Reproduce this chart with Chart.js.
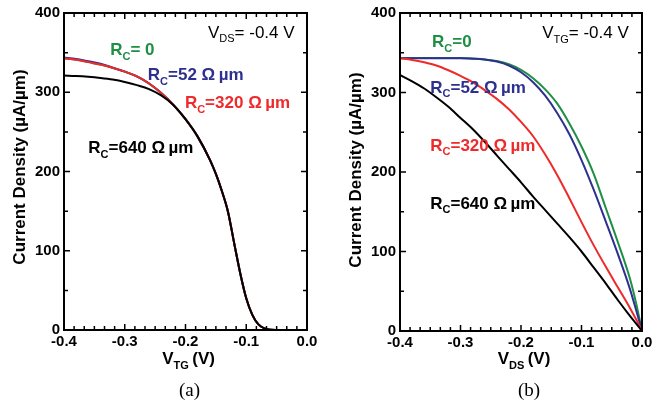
<!DOCTYPE html>
<html lang="en">
<head>
<meta charset="UTF-8">
<title>Current density, contact resistance</title>
<script src="https://cdn.jsdelivr.net/npm/chart.js@4.4.0/dist/chart.umd.min.js"></script>
<style>
  body { margin: 0; width: 654px; height: 411px; overflow: hidden; background: #fff; position: relative; }
  canvas { position: absolute; top: 0; }
  #left { left: 0; }
  #right { left: 327px; }
  .cap { position: absolute; top: 379px; font: 19px "Liberation Serif", "Times New Roman", serif; color: #000; }
</style>
</head>
<body>
<canvas id="left" width="327" height="411"></canvas>
<canvas id="right" width="340" height="411"></canvas>
<div class="cap" style="left:179px">(a)</div>
<div class="cap" style="left:518px">(b)</div>
<script>
// (a) J vs V_TG at V_DS = -0.4 V
const vtg = [-0.40, -0.38, -0.36, -0.34, -0.32, -0.30, -0.28, -0.26, -0.24, -0.22, -0.20, -0.18, -0.16, -0.15, -0.14, -0.13, -0.12, -0.11, -0.10, -0.09, -0.08, -0.07, -0.06, -0.04, -0.02, 0];
const a_rc0   = [343, 341, 338, 335, 331, 326, 320, 311, 299, 284, 266, 244, 215, 197, 175, 149, 110, 72, 40, 19, 7, 2, 0.3, 0, 0, 0];
const a_rc52  = [344, 342, 339, 336, 331, 326, 320, 311, 299, 284, 266, 244, 215, 197, 175, 149, 110, 72, 40, 19, 7, 2, 0.3, 0, 0, 0];
const a_rc320 = [343, 341, 338, 335, 331, 326, 320, 311, 299, 284, 266, 244, 215, 197, 175, 149, 110, 72, 40, 19, 7, 2, 0.3, 0, 0, 0];
const a_rc640 = [321, 320.5, 319.5, 318, 316, 313, 309, 304, 296, 284, 266, 244, 215, 197, 175, 149, 110, 72, 40, 19, 7, 2, 0.3, 0, 0, 0];

// (b) J vs V_DS at V_TG = -0.4 V
const vds = [-0.40, -0.38, -0.36, -0.34, -0.32, -0.30, -0.28, -0.26, -0.24, -0.22, -0.20, -0.18, -0.16, -0.14, -0.12, -0.10, -0.08, -0.06, -0.04, -0.02, -0.01, 0];
const b_rc0   = [343.5, 343.5, 343.5, 343.5, 343.5, 343.3, 342.7, 341.5, 339.5, 335.5, 328.5, 318, 304, 286, 261, 232, 198, 155, 112, 66, 36, 0];
const b_rc52  = [343, 343, 343, 343, 343, 343, 342.5, 341.5, 339, 334, 325.5, 313, 296, 274, 247.5, 215, 178, 138, 97, 53, 27, 0];
const b_rc320 = [343, 341, 338, 334, 328, 321, 313, 303, 292, 279, 263, 245, 222, 196, 167, 137, 108, 81, 55, 29, 15, 0];
const b_rc640 = [322, 314, 305, 294, 282, 268, 254, 238, 221, 204, 187, 169, 152, 135, 118, 100, 80, 60, 39, 19, 9.5, 0];

const GREEN = '#1f8f45', NAVY = '#2e3090', RED = '#ee2a2a', BLACK = '#000';
const FONT = '"Liberation Sans", Arial, sans-serif';

function pts(xs, ys) { return xs.map((x, i) => ({ x: x, y: ys[i] })); }

// text with one subscript: [main, sub, rest]
function subText(ctx, x, y, parts, size, weight, align) {
  const big = weight + ' ' + size + 'px ' + FONT;
  const small = weight + ' ' + Math.round(size * 0.66) + 'px ' + FONT;
  ctx.font = big; const w0 = ctx.measureText(parts[0]).width;
  ctx.font = small; const w1 = ctx.measureText(parts[1]).width;
  ctx.font = big; const w2 = ctx.measureText(parts[2]).width;
  if (align === 'center') x -= (w0 + w1 + w2) / 2;
  ctx.textAlign = 'left';
  ctx.textBaseline = 'alphabetic';
  ctx.font = big; ctx.fillText(parts[0], x, y);
  ctx.font = small; ctx.fillText(parts[1], x + w0, y + size * 0.27);
  ctx.font = big; ctx.fillText(parts[2], x + w0 + w1, y);
}

const frame = {
  id: 'frame',
  afterDatasetsDraw(chart, args, opts) {
    const { ctx, chartArea: a, scales: { x, y } } = chart;
    ctx.save();
    ctx.strokeStyle = '#000';
    ctx.lineWidth = 1.5;
    ctx.beginPath();
    const xv = x.ticks.map(t => t.value);
    for (let i = 0; i < xv.length; i++) {
      const p = x.getPixelForValue(xv[i]);
      ctx.moveTo(p, a.bottom); ctx.lineTo(p, a.bottom - 6);
      ctx.moveTo(p, a.top); ctx.lineTo(p, a.top + 6);
      if (i < xv.length - 1) {
        for (let k = 1; k < 6; k++) {
          const q = x.getPixelForValue(xv[i] + (xv[i + 1] - xv[i]) * k / 6);
          ctx.moveTo(q, a.bottom); ctx.lineTo(q, a.bottom - 4);
          ctx.moveTo(q, a.top); ctx.lineTo(q, a.top + 4);
        }
      }
    }
    const yv = y.ticks.map(t => t.value);
    for (let i = 0; i < yv.length; i++) {
      const p = y.getPixelForValue(yv[i]);
      ctx.moveTo(a.left, p); ctx.lineTo(a.left + 6, p);
      ctx.moveTo(a.right, p); ctx.lineTo(a.right - 6, p);
      if (i < yv.length - 1) {
        const q = y.getPixelForValue((yv[i] + yv[i + 1]) / 2);
        ctx.moveTo(a.left, q); ctx.lineTo(a.left + 4, q);
        ctx.moveTo(a.right, q); ctx.lineTo(a.right - 4, q);
      }
    }
    ctx.stroke();
    ctx.lineWidth = 2;
    ctx.strokeRect(a.left, a.top, a.right - a.left, a.bottom - a.top);

    // curve labels
    opts.notes.forEach(n => {
      ctx.fillStyle = n.color;
      subText(ctx, x.getPixelForValue(n.x), y.getPixelForValue(n.y), n.parts, 17, n.weight, 'left');
    });

    // axis titles
    ctx.fillStyle = '#000';
    subText(ctx, x.getPixelForValue(-0.195), 364, opts.xTitle, 17, 'bold', 'center');
    ctx.save();
    ctx.translate(opts.yTitleX, opts.yTitleY);
    ctx.rotate(-Math.PI / 2);
    ctx.font = 'bold 17px ' + FONT;
    ctx.textAlign = 'center';
    ctx.textBaseline = 'middle';
    ctx.fillText('Current Density (\u00b5A/\u00b5m)', 0, 0);
    ctx.restore();
    ctx.restore();
  }
};

function panel(id, xs, series, cfg) {
  const tickFont = { family: FONT, size: 15, weight: 'bold' };
  return new Chart(document.getElementById(id), {
    type: 'line',
    data: {
      datasets: [
        { data: pts(xs, series[3]), borderColor: BLACK },
        { data: pts(xs, series[2]), borderColor: RED },
        { data: pts(xs, series[1]), borderColor: NAVY },
        { data: pts(xs, series[0]), borderColor: GREEN }
      ]
    },
    options: {
      responsive: false,
      animation: false,
      layout: { padding: cfg.padding },
      elements: {
        point: { radius: 0 },
        line: { borderWidth: 2, cubicInterpolationMode: 'monotone', fill: false }
      },
      plugins: {
        legend: { display: false },
        tooltip: { enabled: false },
        frame: cfg
      },
      scales: {
        x: {
          type: 'linear', min: -0.4, max: 0,
          grid: { display: false, drawTicks: false },
          border: { display: false },
          ticks: {
            stepSize: 0.1, padding: 3, color: '#000', font: tickFont, maxRotation: 0,
            callback: v => Math.abs(v) < 1e-9 ? '0.0' : v.toFixed(1)
          },
          afterFit: s => { s.height = cfg.xHeight; }
        },
        y: {
          min: 0, max: 400,
          grid: { display: false, drawTicks: false },
          border: { display: false },
          ticks: { stepSize: 100, padding: 4, color: '#000', font: tickFont },
          afterFit: s => { s.width = cfg.yWidth; }
        }
      }
    },
    plugins: [frame]
  });
}

panel('left', vtg, [a_rc0, a_rc52, a_rc320, a_rc640], {
  padding: { top: 11, right: 20, left: 0, bottom: 0 },
  xHeight: 81, yWidth: 64,
  yTitleX: 20, yTitleY: 167,
  xTitle: ['V', 'TG', '\u2009(V)'],
  notes: [
    { x: -0.163, y: 368.6, parts: ['V', 'DS', '= -0.4 V'], color: BLACK, weight: 'normal' },
    { x: -0.324, y: 347, parts: ['R', 'C', '= 0'], color: GREEN, weight: 'bold' },
    { x: -0.262, y: 315, parts: ['R', 'C', '=52 \u03a9\u2009\u00b5m'], color: NAVY, weight: 'bold' },
    { x: -0.201, y: 280, parts: ['R', 'C', '=320 \u03a9\u2009\u00b5m'], color: RED, weight: 'bold' },
    { x: -0.360, y: 223, parts: ['R', 'C', '=640 \u03a9\u2009\u00b5m'], color: BLACK, weight: 'bold' }
  ]
});

panel('right', vds, [b_rc0, b_rc52, b_rc320, b_rc640], {
  padding: { top: 12, right: 25, left: 0, bottom: 0 },
  xHeight: 80, yWidth: 73,
  yTitleX: 29.5, yTitleY: 170,
  xTitle: ['V', 'DS', '\u2009(V)'],
  notes: [
    { x: -0.165, y: 368.6, parts: ['V', 'TG', '= -0.4 V'], color: BLACK, weight: 'normal' },
    { x: -0.347, y: 357, parts: ['R', 'C', '=0'], color: GREEN, weight: 'bold' },
    { x: -0.350, y: 300, parts: ['R', 'C', '=52 \u03a9\u2009\u00b5m'], color: NAVY, weight: 'bold' },
    { x: -0.350, y: 227, parts: ['R', 'C', '=320 \u03a9\u2009\u00b5m'], color: RED, weight: 'bold' },
    { x: -0.350, y: 154, parts: ['R', 'C', '=640 \u03a9\u2009\u00b5m'], color: BLACK, weight: 'bold' }
  ]
});
</script>
</body>
</html>
